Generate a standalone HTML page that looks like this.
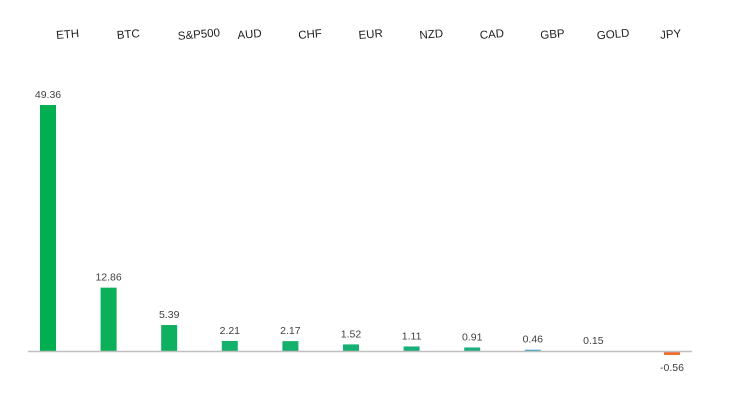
<!DOCTYPE html>
<html><head><meta charset="utf-8"><style>
body{margin:0;background:#fff;}
svg{display:block;font-family:"Liberation Sans",sans-serif;}
</style></head><body>
<svg width="738" height="410">
<g id="bars"></g>
<line x1="28" y1="351.5" x2="692" y2="351.5" stroke="#bfbfbf" stroke-width="1.5"/>
</svg>
<script>
const categories=["ETH","BTC","S&P500","AUD","CHF","EUR","NZD","CAD","GBP","GOLD","JPY"];
const values=[49.36,12.86,5.39,2.21,2.17,1.52,1.11,0.91,0.46,0.15,-0.56];
const labels=["49.36","12.86","5.39","2.21","2.17","1.52","1.11","0.91","0.46","0.15","-0.56"];
const colors=["#00b050","#0cb058","#0fb060","#14b06c","#14b06c","#18af72","#1aae78","#1fae80","#3aa6c0","#3aa6c0","#f07030"];
const ns="http://www.w3.org/2000/svg";
const g=document.getElementById('bars');
const base=352, k=247/49.36;
function x(i){return 48+i*60.6+(i===10?18:0);}
function y(v){return base-v*k;}
categories.forEach((c,i)=>{
  const v=values[i];
  const r=document.createElementNS(ns,'rect');
  
  
  const top=v>=0?y(v):base, h=Math.max(Math.abs(v)*k,v>=0?1:3);
  r.setAttribute('x',x(i)-8);r.setAttribute('width',16);
  r.setAttribute('y',v>=0?base-h:base);r.setAttribute('height',h);
  r.setAttribute('fill',colors[i]);
  g.appendChild(r);
  const t=document.createElementNS(ns,'text');
  
  
  t.setAttribute('x',x(i));t.setAttribute('y',v>=0?base-h-7:base+19);
  t.setAttribute('text-anchor','middle');t.setAttribute('font-size','10.5');t.setAttribute('fill','#404040');
  t.textContent=labels[i];g.appendChild(t);
  const cl=document.createElementNS(ns,'text');
  
  
  const cx=(i===10?x(i)-1:x(i)+20+(i===2?10:0)), cy=38;
  cl.setAttribute('x',cx);cl.setAttribute('y',cy);
  cl.setAttribute('text-anchor','middle');cl.setAttribute('font-size','11.5');cl.setAttribute('fill','#202020');
  cl.setAttribute('transform','rotate(-5 '+cx+' '+cy+')');
  cl.textContent=c;g.appendChild(cl);
});
</script>
</body></html>
